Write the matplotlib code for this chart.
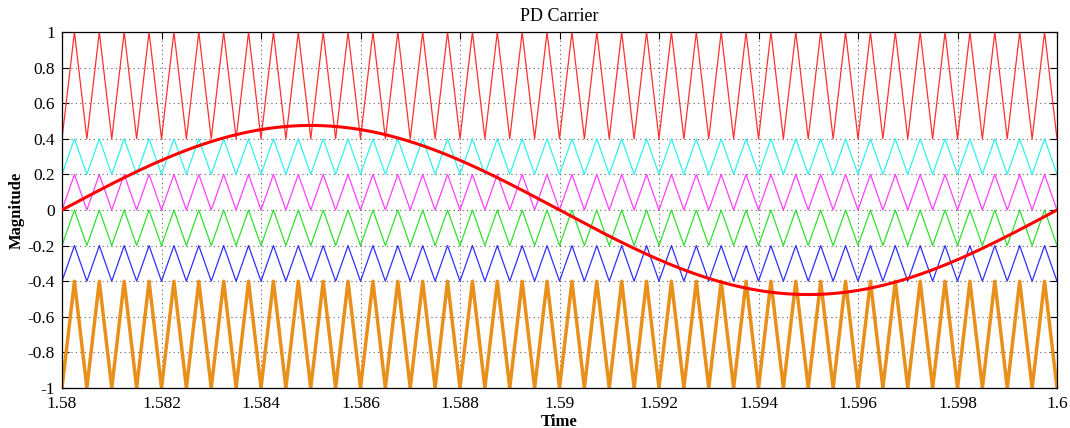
import matplotlib
matplotlib.use("Agg")
import matplotlib.pyplot as plt
import numpy as np

# chart parameters
t_start = 1.58
t_end = 1.6
carrier_freq = 2000.0      # 40 triangles across 0.02 s
ref_freq = 50.0            # one full sine period across the window
ref_amp = 0.475

# carrier bands (low, high) and colours, top to bottom
band_low = [0.4, 0.2, 0.0, -0.2, -0.4, -1.0]
band_high = [1.0, 0.4, 0.2, 0.0, -0.2, -0.4]
band_colors = ["#ff3030", "#30f0f0", "#ff40ff", "#30e030", "#3030ff", "#e8901a"]
band_widths = [0.9, 0.9, 0.9, 0.9, 0.9, 2.5]

xticks = [1.58, 1.582, 1.584, 1.586, 1.588, 1.59, 1.592, 1.594, 1.596, 1.598, 1.6]
xtick_labels = ["1.58", "1.582", "1.584", "1.586", "1.588", "1.59", "1.592",
                "1.594", "1.596", "1.598", "1.6"]
yticks = [-1, -0.8, -0.6, -0.4, -0.2, 0, 0.2, 0.4, 0.6, 0.8, 1]
ytick_labels = ["-1", "-0.8", "-0.6", "-0.4", "-0.2", "0", "0.2", "0.4", "0.6", "0.8", "1"]

plt.rcParams['font.family'] = ['Liberation Serif', 'DejaVu Serif']

fig = plt.figure(figsize=(10.7, 4.28), dpi=100)
ax = fig.add_axes([62/1070, 40/428, 995/1070, 356/428])

# triangle vertices: minima at multiples of the carrier period
n_per = int(round((t_end - t_start) * carrier_freq))
tv = t_start + np.arange(2*n_per + 1) / (2*carrier_freq)
phase = np.arange(2*n_per + 1) % 2
for lo, hi, c, w in zip(band_low, band_high, band_colors, band_widths):
    ax.plot(tv, lo + (hi - lo)*phase, color=c, lw=w, zorder=2)

t = np.linspace(t_start, t_end, 2001)
ax.plot(t, ref_amp*np.sin(2*np.pi*ref_freq*(t - t_start)), color="#ff0000", lw=2.2, zorder=3)

ax.set_xlim(t_start, t_end)
ax.set_ylim(-1, 1)
ax.set_xticks(xticks)
ax.set_xticklabels(xtick_labels)
ax.set_yticks(yticks)
ax.set_yticklabels(ytick_labels)
ax.grid(True, linestyle=(0, (1, 3)), color="#606060", lw=0.8)
ax.tick_params(direction="in", top=True, right=True, labelsize=12.5, length=5, width=0.8)
ax.tick_params(axis="x", pad=6)
ax.tick_params(axis="y", pad=5)
for s in ax.spines.values():
    s.set_linewidth(0.9)

ax.set_title("PD Carrier", fontsize=13, pad=8)
ax.set_xlabel("Time", fontsize=12, fontweight="bold", labelpad=1)
ax.set_ylabel("Magnitude", fontsize=12, fontweight="bold", labelpad=2)

fig.savefig("out.png", dpi=100)
